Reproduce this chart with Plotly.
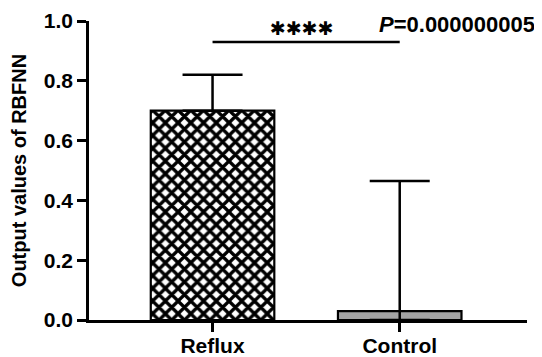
import plotly.graph_objects as go

categories = ["Reflux", "Control"]
means = [0.70, 0.03]
err_plus = [0.12, 0.435]
err_minus = [0.0, 0.03]
sig_level = 0.93
sig_label = "✱✱✱✱"
p_label = "<i>P</i>=0.000000005"
y_ticks = [0.0, 0.2, 0.4, 0.6, 0.8, 1.0]
y_ticklabels = ["0.0", "0.2", "0.4", "0.6", "0.8", "1.0"]

FONT = "Liberation Sans, Arial, sans-serif"

fig = go.Figure()

# Reflux bar (checker-like pattern)
fig.add_trace(go.Bar(
    x=[categories[0]], y=[means[0]], width=0.66,
    marker=dict(color="white", line=dict(color="black", width=2.2),
                pattern=dict(shape="x", size=9, solidity=0.6, fgcolor="black", bgcolor="white", fillmode="replace")),
    error_y=dict(type="data", symmetric=False, array=[err_plus[0]], arrayminus=[err_minus[0]],
                 color="black", thickness=2.5, width=30),
    showlegend=False,
))
# Control bar (grey)
fig.add_trace(go.Bar(
    x=[categories[1]], y=[means[1]], width=0.66,
    marker=dict(color="#a3a3a3", line=dict(color="black", width=2.2)),
    error_y=dict(type="data", symmetric=False, array=[err_plus[1]], arrayminus=[err_minus[1]],
                 color="black", thickness=2.5, width=30),
    showlegend=False,
))

# significance bracket line
fig.add_trace(go.Scatter(
    x=categories, y=[sig_level, sig_level], mode="lines",
    line=dict(color="black", width=2.5), showlegend=False, hoverinfo="skip",
))

fig.add_annotation(x=0.48, y=0.978, xref="x", yref="y", text=sig_label, showarrow=False,
                   font=dict(family="DejaVu Sans", size=19, color="black"), yanchor="middle")
fig.add_annotation(x=1.022, y=0.988, xref="paper", yref="y", text=p_label, showarrow=False,
                   xanchor="right", yanchor="middle",
                   font=dict(family=FONT, size=22, color="black", weight="bold"))

# page body has an 8px default margin; the figure fills the remaining window
fig.update_layout(
    width=534, height=349,
    margin=dict(l=81, r=15, t=13, b=37),
    plot_bgcolor="white", paper_bgcolor="white",
    barmode="overlay",
    font=dict(family=FONT, color="black"),
    xaxis=dict(
        type="category", categoryorder="array", categoryarray=categories,
        range=[-0.66, 1.68], automargin=False,
        showline=True, linecolor="black", linewidth=2.5,
        ticks="outside", ticklen=9, tickwidth=2.5, tickcolor="black",
        ticklabelstandoff=-4,
        tickfont=dict(family=FONT, size=21, color="black", weight="bold"),
        showgrid=False, zeroline=False,
    ),
    yaxis=dict(
        range=[0, 1.0], tickvals=y_ticks, ticktext=y_ticklabels, automargin=False,
        showline=True, linecolor="black", linewidth=2.5,
        ticks="outside", ticklen=9, tickwidth=2.5, tickcolor="black",
        tickfont=dict(family=FONT, size=21, color="black", weight="bold"),
        showgrid=False, zeroline=False,
        title=dict(text="Output values of RBFNN", standoff=12,
                   font=dict(family=FONT, size=20, color="black", weight="bold")),
    ),
)

fig.write_html("out.html")
